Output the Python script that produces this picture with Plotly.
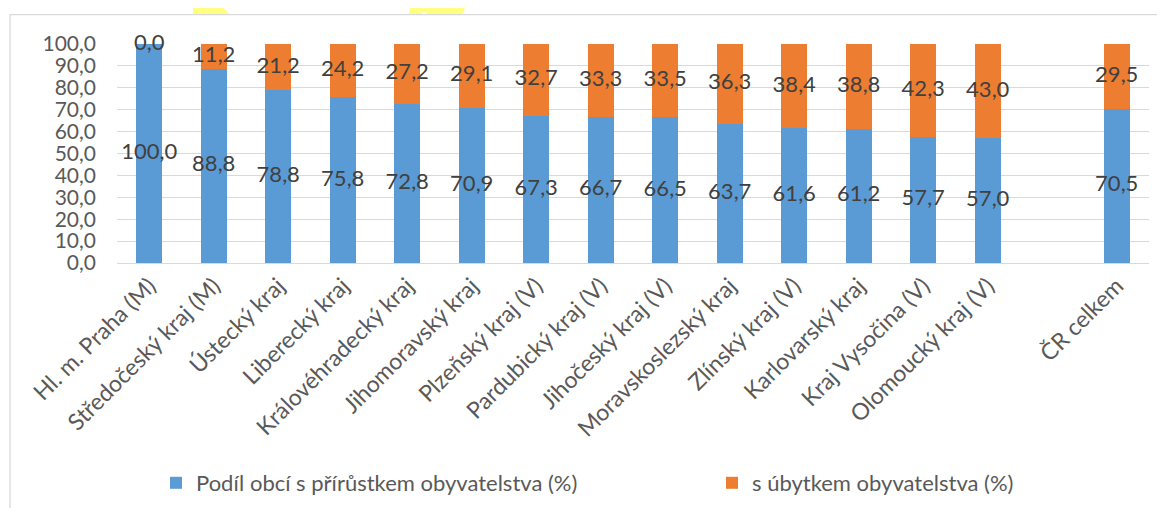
import plotly.graph_objects as go

categories = [
    "Hl. m. Praha (M)", "Středočeský kraj (M)", "Ústecký kraj", "Liberecký kraj",
    "Královéhradecký kraj", "Jihomoravský kraj", "Plzeňský kraj (V)",
    "Pardubický kraj (V)", "Jihočeský kraj (V)", "Moravskoslezský kraj",
    "Zlínský kraj (V)", "Karlovarský kraj", "Kraj Vysočina (V)",
    "Olomoucký kraj (V)", " ", "ČR celkem",
]
growth = [100.0, 88.8, 78.8, 75.8, 72.8, 70.9, 67.3, 66.7, 66.5, 63.7, 61.6, 61.2, 57.7, 57.0, None, 70.5]
decline = [0.0, 11.2, 21.2, 24.2, 27.2, 29.1, 32.7, 33.3, 33.5, 36.3, 38.4, 38.8, 42.3, 43.0, None, 29.5]
series_names = ["Podíl obcí s přírůstkem obyvatelstva (%)", "s úbytkem obyvatelstva (%)"]
y_ticks = [0, 10, 20, 30, 40, 50, 60, 70, 80, 90, 100]

BLUE = "#5B9BD5"
ORANGE = "#ED7D31"
FONT = "Lato"
FS = 22
TXT = "#595959"
LBL = "#404040"

def fmt(v):
    return f"{v:.1f}".replace(".", ",")

fig = go.Figure()
fig.add_trace(go.Bar(x=categories, y=growth, name=series_names[0], marker_color=BLUE,
                     marker_line_width=0, width=0.4, legend="legend"))
fig.add_trace(go.Bar(x=categories, y=decline, name=series_names[1], marker_color=ORANGE,
                     marker_line_width=0, width=0.4, legend="legend2"))

# data labels centred in each segment (Excel "center")
cx, cy, ct = [], [], []
for c, g, d in zip(categories, growth, decline):
    if g is None:
        continue
    cx.append(c); cy.append(g / 2); ct.append(fmt(g))
    cx.append(c); cy.append(g + d / 2); ct.append(fmt(d))
fig.add_trace(go.Scatter(x=cx, y=cy, text=ct, mode="text", showlegend=False,
                         textfont=dict(family=FONT, size=FS, color=LBL),
                         textposition="middle center", hoverinfo="skip", cliponaxis=False))

# page has an 8px body margin; figure coords = page coords - 8
OFF = 8
W, H = 1149, 500
L = 117 - OFF
T = 44 - OFF
R = W - (1149 - OFF)
B = H - (263 - OFF)
pw = W - L - R
ph = H - T - B

def px2x(p):
    return (p - OFF - L) / pw

def py2y(p):
    return (H - B - (p - OFF)) / ph

shapes = []
def poly(pts):
    d = "M " + " L ".join(f"{px2x(a):.4f},{py2y(b):.4f}" for a, b in pts) + " Z"
    return dict(type="path", xref="paper", yref="paper", path=d,
                fillcolor="#FFFF80", line=dict(width=0), layer="below")
shapes.append(poly([(193, 6), (222, 6), (230, 14.5), (193, 14.5)]))
shapes.append(poly([(410, 6), (466, 6), (462, 14.5), (428, 14.5), (424.5, 11), (421, 14.5), (409, 14.5)]))
shapes.append(dict(type="rect", xref="paper", yref="paper",
                   x0=px2x(10), x1=px2x(1180), y0=py2y(530), y1=py2y(14.7),
                   line=dict(color="#D9D9D9", width=1.3), fillcolor="rgba(0,0,0,0)", layer="above"))

leg_common = dict(orientation="h", yanchor="middle", y=py2y(483), xanchor="left",
                  font=dict(family=FONT, size=FS, color=TXT), bgcolor="rgba(0,0,0,0)",
                  itemwidth=30)

fig.update_layout(
    width=W, height=H,
    margin=dict(l=L, r=R, t=T, b=B, autoexpand=False),
    barmode="stack",
    separators=", ",
    paper_bgcolor="white", plot_bgcolor="white",
    font=dict(family=FONT, size=FS, color=TXT),
    shapes=shapes,
    legend=dict(x=px2x(156), **leg_common),
    legend2=dict(x=px2x(712), **leg_common),
    xaxis=dict(type="category", categoryorder="array", categoryarray=categories,
               range=[-0.5, len(categories) - 0.5],
               tickangle=-45, showgrid=False, showline=False, ticks="", automargin=False,
               ticklabelstandoff=4,
               tickfont=dict(family=FONT, size=23, color=TXT), fixedrange=True),
    yaxis=dict(range=[0, 100], tickvals=y_ticks, tickformat=".1f", showgrid=True,
               gridcolor="#D9D9D9", gridwidth=1.3, zeroline=True, zerolinecolor="#D9D9D9",
               zerolinewidth=1.3, showline=False, ticks="", automargin=False,
               ticklabelstandoff=20,
               tickfont=dict(family=FONT, size=21, color=TXT), fixedrange=True),
)

fig.write_html("out.html")
